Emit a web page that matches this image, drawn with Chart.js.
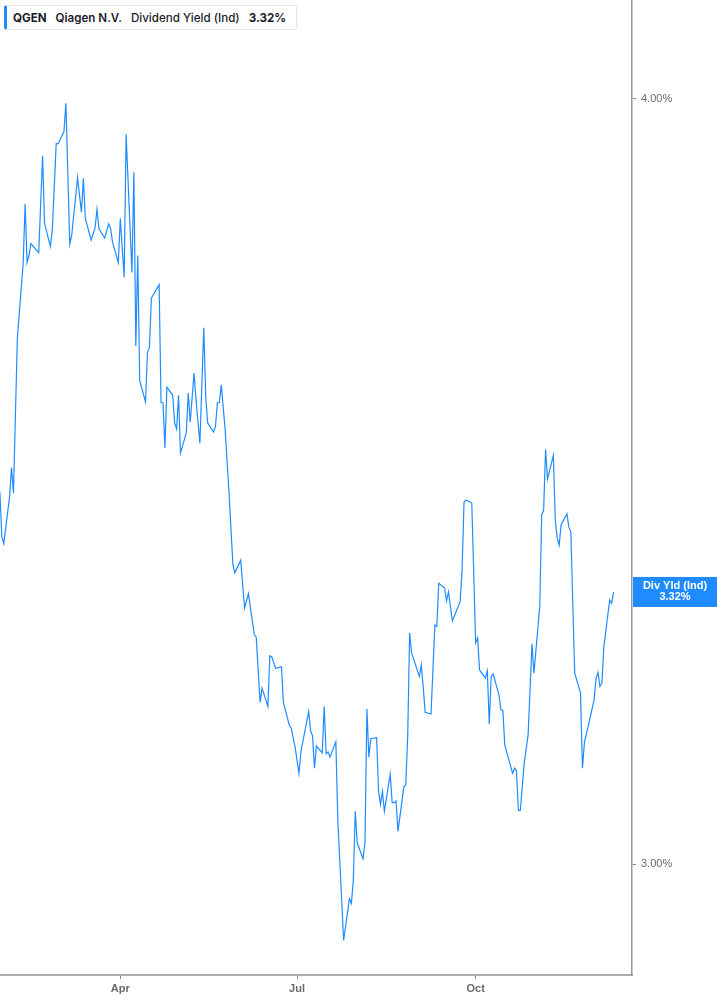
<!DOCTYPE html>
<html>
<head>
<meta charset="utf-8">
<script src="https://cdn.jsdelivr.net/npm/chart.js@4.4.1/dist/chart.umd.min.js"></script>
<style>
  html, body { margin: 0; padding: 0; background: #fff; }
  #wrap { position: relative; width: 717px; height: 1005px; }
  #legend {
    position: absolute; left: 4px; top: 5px; height: 25px; width: 293px;
    box-sizing: border-box; background: #fff;
    border: 1px solid #e4e6ea; border-left: 3px solid #1e8cff; border-radius: 3px;
    font-family: Inter, "Noto Sans", sans-serif; font-size: 11.6px; color: #1b1c2a;
    display: flex; align-items: center; padding-left: 6px; white-space: nowrap;
  }
  #legend span { margin-right: 9px; }
</style>
</head>
<body>
<div id="wrap">
  <canvas id="c" width="717" height="1005"></canvas>
  <div id="legend">
    <span style="font-weight:700">QGEN</span>
    <span style="font-weight:600">Qiagen N.V.</span>
    <span style="font-weight:500">Dividend Yield (Ind)</span>
    <span style="font-weight:700">3.32%</span>
  </div>
</div>
<script>
const dates = [
 '2025-01-29','2025-01-30','2025-01-31','2025-02-03','2025-02-04','2025-02-05','2025-02-07','2025-02-10','2025-02-11','2025-02-12',
 '2025-02-13','2025-02-14','2025-02-18','2025-02-20','2025-02-21','2025-02-24','2025-02-25','2025-02-27','2025-02-28','2025-03-03',
 '2025-03-04','2025-03-06','2025-03-07','2025-03-10','2025-03-12','2025-03-13','2025-03-14','2025-03-17','2025-03-19','2025-03-20',
 '2025-03-21','2025-03-24','2025-03-26','2025-03-27','2025-03-28','2025-03-31','2025-04-01','2025-04-03','2025-04-04','2025-04-07',
 '2025-04-08','2025-04-09','2025-04-10','2025-04-11','2025-04-14','2025-04-15','2025-04-16','2025-04-17','2025-04-21','2025-04-22',
 '2025-04-23','2025-04-24','2025-04-25','2025-04-28','2025-04-29','2025-04-30','2025-05-01','2025-05-02','2025-05-05','2025-05-06',
 '2025-05-07','2025-05-09','2025-05-10','2025-05-12','2025-05-14','2025-05-15','2025-05-16','2025-05-19','2025-05-20','2025-05-21',
 '2025-05-22','2025-05-23','2025-05-25','2025-05-27','2025-05-29','2025-05-30','2025-06-02','2025-06-04','2025-06-06','2025-06-09',
 '2025-06-10','2025-06-12','2025-06-13','2025-06-16','2025-06-17','2025-06-18','2025-06-20','2025-06-23','2025-06-24','2025-06-27',
 '2025-06-28','2025-06-30','2025-07-02','2025-07-03','2025-07-07','2025-07-08','2025-07-09','2025-07-10','2025-07-11','2025-07-14',
 '2025-07-15','2025-07-16','2025-07-17','2025-07-18','2025-07-21','2025-07-22','2025-07-25','2025-07-28','2025-07-29','2025-07-30',
 '2025-07-31','2025-08-01','2025-08-04','2025-08-05','2025-08-06','2025-08-07','2025-08-08','2025-08-11','2025-08-12','2025-08-13',
 '2025-08-14','2025-08-15','2025-08-18','2025-08-19','2025-08-20','2025-08-21','2025-08-22','2025-08-25','2025-08-26','2025-08-27',
 '2025-08-28','2025-08-29','2025-09-02','2025-09-03','2025-09-04','2025-09-05','2025-09-08','2025-09-10','2025-09-11','2025-09-12',
 '2025-09-15','2025-09-16','2025-09-17','2025-09-19','2025-09-22','2025-09-23','2025-09-24','2025-09-25','2025-09-26','2025-09-29',
 '2025-10-01','2025-10-02','2025-10-03','2025-10-06','2025-10-07','2025-10-08','2025-10-09','2025-10-10','2025-10-13','2025-10-14',
 '2025-10-15','2025-10-16','2025-10-20','2025-10-21','2025-10-22','2025-10-23','2025-10-24','2025-10-26','2025-10-28','2025-10-30',
 '2025-10-31','2025-11-03','2025-11-04','2025-11-05','2025-11-06','2025-11-07','2025-11-10','2025-11-11','2025-11-12','2025-11-13',
 '2025-11-14','2025-11-17','2025-11-18','2025-11-19','2025-11-21','2025-11-24','2025-11-25','2025-11-26','2025-12-01','2025-12-02',
 '2025-12-03','2025-12-04','2025-12-05','2025-12-06','2025-12-09','2025-12-10','2025-12-11'
];
const yields = [
 3.450,3.393,3.384,3.444,3.482,3.449,3.656,3.760,3.845,3.761,
 3.771,3.788,3.775,3.915,3.817,3.784,3.807,3.933,3.933,3.951,
 3.993,3.787,3.800,3.883,3.833,3.882,3.824,3.793,3.810,3.837,
 3.809,3.796,3.816,3.810,3.790,3.761,3.824,3.740,3.947,3.747,
 3.891,3.645,3.771,3.598,3.569,3.636,3.643,3.711,3.730,3.568,
 3.568,3.508,3.589,3.578,3.541,3.533,3.578,3.501,3.528,3.581,
 3.542,3.608,3.572,3.514,3.670,3.576,3.541,3.529,3.536,3.568,
 3.568,3.592,3.532,3.449,3.357,3.347,3.363,3.303,3.321,3.270,
 3.267,3.188,3.205,3.183,3.244,3.243,3.229,3.231,3.188,3.161,
 3.157,3.135,3.104,3.129,3.177,3.154,3.148,3.110,3.136,3.128,
 3.183,3.127,3.129,3.123,3.141,3.051,2.915,2.961,2.956,2.982,
 3.060,3.024,3.006,3.024,3.180,3.123,3.145,3.146,3.083,3.068,
 3.083,3.060,3.103,3.070,3.070,3.072,3.037,3.088,3.091,3.147,
 3.272,3.248,3.219,3.233,3.206,3.176,3.174,3.282,3.280,3.334,
 3.328,3.312,3.323,3.287,3.305,3.311,3.350,3.437,3.440,3.436,
 3.260,3.266,3.227,3.217,3.226,3.162,3.219,3.222,3.197,3.179,
 3.178,3.137,3.104,3.110,3.107,3.061,3.061,3.116,3.149,3.259,
 3.223,3.305,3.421,3.427,3.506,3.467,3.498,3.414,3.391,3.382,
 3.408,3.422,3.405,3.399,3.223,3.199,3.110,3.140,3.191,3.217,
 3.224,3.207,3.211,3.255,3.313,3.309,3.323
];
const xTickDates = ['2025-04-01','2025-07-01','2025-10-01'];
const xTickLabels = ['Apr','Jul','Oct'];
const yTickValues = [3, 4];
const yTickLabels = ['3.00%','4.00%'];
const seriesLabel = 'Div Yld (Ind)';

const dayOf = s => (Date.UTC(+s.slice(0,4), +s.slice(5,7)-1, +s.slice(8,10)) - Date.UTC(2025,0,1)) / 864e5;
const xTickDays = xTickDates.map(dayOf);

const lastLabel = {
  id: 'lastLabel',
  afterDraw(chart) {
    const ys = chart.scales.y, ca = chart.chartArea, ctx = chart.ctx;
    const v = yields[yields.length - 1];
    const yp = ys.getPixelForValue(v);
    ctx.save();
    ctx.fillStyle = '#1e8cff';
    ctx.fillRect(ca.right + 1, yp - 15, chart.width - ca.right - 1, 30);
    ctx.fillStyle = '#ffffff';
    ctx.font = 'bold 11px "Liberation Sans", Arial, sans-serif';
    ctx.textAlign = 'center';
    ctx.textBaseline = 'middle';
    const cx = (ca.right + 1 + chart.width) / 2;
    ctx.fillText(seriesLabel, cx, yp - 6);
    ctx.fillText(v.toFixed(2) + '%', cx, yp + 5);
    ctx.restore();
  }
};

const noPad = s => { s.paddingTop = 0; s.paddingBottom = 0; s.paddingLeft = 0; s.paddingRight = 0; };

new Chart(document.getElementById('c'), {
  type: 'line',
  data: {
    datasets: [{
      data: dates.map((d, i) => ({ x: dayOf(d), y: yields[i] })),
      borderColor: '#1e8cff',
      borderWidth: 1.2,
      pointRadius: 0,
      tension: 0,
      fill: false
    }]
  },
  options: {
    responsive: false,
    animation: false,
    devicePixelRatio: 1,
    layout: { padding: 0 },
    plugins: { legend: { display: false }, tooltip: { enabled: false } },
    scales: {
      x: {
        type: 'linear',
        bounds: 'data',
        min: 28.064,
        max: 353.5,
        grid: { drawOnChartArea: false, drawTicks: true, tickLength: 4, color: '#888', lineWidth: 1 },
        border: { display: true, color: '#aaaaaa', width: 2 },
        afterBuildTicks: s => { s.ticks = xTickDays.map(v => ({ value: v })); },
        afterFit: s => { s.height = 30; noPad(s); },
        ticks: {
          autoSkip: false, maxRotation: 0, padding: 3,
          color: '#666a70',
          font: { family: '"Liberation Sans", Arial, sans-serif', size: 11, weight: 'bold' },
          callback: v => { const i = xTickDays.indexOf(v); return i >= 0 ? xTickLabels[i] : ''; }
        }
      },
      y: {
        type: 'logarithmic',
        position: 'right',
        bounds: 'data',
        min: 2.8774,
        max: 4.1512,
        grid: { drawOnChartArea: false, drawTicks: true, tickLength: 4, color: '#888', lineWidth: 1 },
        border: { display: true, color: '#999999', width: 1.5 },
        afterBuildTicks: s => { s.ticks = yTickValues.map(v => ({ value: v })); },
        afterFit: s => { s.width = 85; noPad(s); },
        ticks: {
          autoSkip: false, padding: 5,
          color: '#666a70',
          font: { family: '"Liberation Sans", Arial, sans-serif', size: 11 },
          callback: v => { const i = yTickValues.indexOf(v); return i >= 0 ? yTickLabels[i] : ''; }
        }
      }
    }
  },
  plugins: [lastLabel]
});
</script>
</body>
</html>
